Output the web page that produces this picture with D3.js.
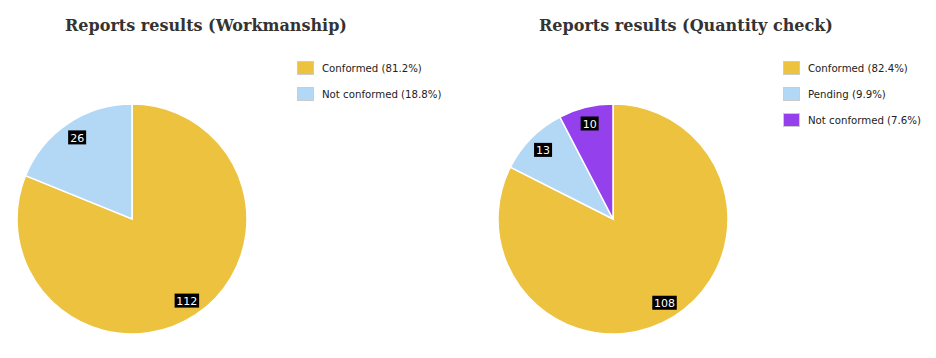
<!DOCTYPE html>
<html><head><meta charset="utf-8">
<script src="https://cdn.jsdelivr.net/npm/d3@7"></script>
<style>body{margin:0;background:#fff}svg{display:block}</style>
</head><body>
<svg id="c" width="936" height="358"></svg>
<script>
const titles = ["Reports results (Workmanship)", "Reports results (Quantity check)"];
const cats1 = ["Conformed", "Not conformed"];
const vals1 = [112, 26];
const cols1 = ["#ECC23F", "#B2D8F6"];
const cats2 = ["Conformed", "Pending", "Not conformed"];
const vals2 = [108, 13, 10];
const cols2 = ["#ECC23F", "#B2D8F6", "#9440EC"];

const svg = d3.select("#c");
const charts = [
  {title: titles[0], cats: cats1, vals: vals1, cols: cols1, cx: 132, cy: 219, tx: 206, lx: 297},
  {title: titles[1], cats: cats2, vals: vals2, cols: cols2, cx: 613, cy: 219, tx: 686, lx: 783}
];
const R = 115;
charts.forEach(ch => {
  const g = svg.append("g");
  g.append("text").attr("x", ch.tx).attr("y", 31).attr("text-anchor", "middle")
    .attr("font-family", "DejaVu Serif").attr("font-weight", "bold").attr("font-size", 16)
    .attr("fill", "#333").text(ch.title);
  const data = ch.cats.map((c, i) => ({c, v: ch.vals[i], col: ch.cols[i]}));
  const total = d3.sum(ch.vals);
  const pie = d3.pie().value(d => d.v).sort(null);
  const arc = d3.arc().innerRadius(0).outerRadius(R);
  const labArc = d3.arc().innerRadius(R * 0.855).outerRadius(R * 0.855);
  const pg = g.append("g").attr("transform", `translate(${ch.cx},${ch.cy})`);
  const arcs = pie(data);
  pg.selectAll("path").data(arcs).join("path").attr("d", arc)
    .attr("fill", d => d.data.col).attr("stroke", "#fff").attr("stroke-width", 1.5);
  arcs.forEach(a => {
    const [x, y] = labArc.centroid(a);
    const t = String(a.data.v);
    const w = t.length * 6.5 + 5;
    pg.append("rect").attr("x", x - w / 2).attr("y", y - 7).attr("width", w).attr("height", 14).attr("fill", "#000");
    pg.append("text").attr("x", x).attr("y", y + 4.5).attr("text-anchor", "middle")
      .attr("font-family", "DejaVu Sans").attr("font-size", 11).attr("fill", "#fff").text(t);
  });
  const lg = g.append("g");
  data.forEach((d, i) => {
    const y = 61 + i * 26;
    lg.append("rect").attr("x", ch.lx + 0.5).attr("y", y + 0.5).attr("width", 16).attr("height", 13)
      .attr("fill", d.col).attr("stroke", "#ccc").attr("stroke-width", 1);
    lg.append("text").attr("x", ch.lx + 25).attr("y", y + 11)
      .attr("font-family", "DejaVu Sans").attr("font-size", 10.2).attr("fill", "#222")
      .text(`${d.c} (${(d.v / total * 100).toFixed(1)}%)`);
  });
});
</script>
</body></html>
